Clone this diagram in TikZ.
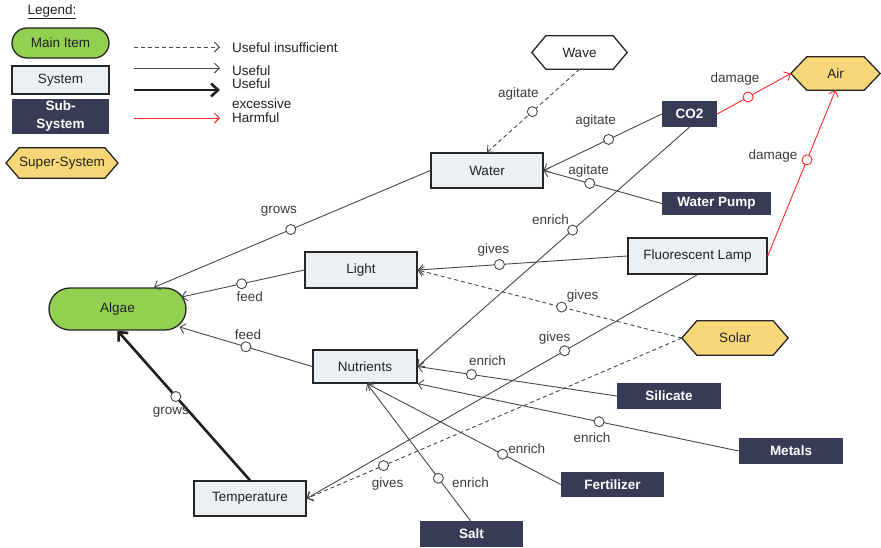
\documentclass[tikz,border=0pt]{standalone}
\usepackage{fontspec}
\setmainfont{Liberation Sans}
\usetikzlibrary{arrows.meta,shapes.misc,backgrounds}

\definecolor{lineg}{HTML}{484848}
\definecolor{edgek}{HTML}{262626}
\definecolor{textk}{HTML}{222222}
\definecolor{lblc}{HTML}{3C3C3C}
\definecolor{algaegreen}{HTML}{92D050}
\definecolor{sysfill}{HTML}{EBF0F5}
\definecolor{subfill}{HTML}{373B55}
\definecolor{superfill}{HTML}{F8D778}
\definecolor{harm}{HTML}{FF2828}

% hexagonal frame around a rectangular core node: #1 node, #2 tip depth, #3 fill
\newcommand\hexframe[3]{%
  \begin{scope}[on background layer]
    \filldraw[draw=edgek, line width=1.3pt, fill=#3, line join=miter]
      ([shift={(-#2,0)}]#1.west) -- (#1.north west) -- (#1.north east)
      -- ([shift={(#2,0)}]#1.east) -- (#1.south east) -- (#1.south west) -- cycle;
  \end{scope}}

\begin{document}
\begin{tikzpicture}[x=1pt, y=-1pt,
  font=\fontsize{13.5}{16}\selectfont,
  mainitem/.style={rounded rectangle, draw=edgek, line width=1.3pt, fill=algaegreen,
    inner sep=0pt, text=textk},
  sysbox/.style={rectangle, draw=edgek, line width=1.3pt, fill=sysfill,
    inner sep=0pt, text=textk},
  subbox/.style={rectangle, fill=subfill, inner sep=0pt, text=white,
    font=\fontsize{13.5}{16}\selectfont\bfseries},
  hexcore/.style={rectangle, inner sep=0pt, text=textk},
  marker/.style={circle, solid, draw=lineg, fill=white, line width=0.9pt,
    minimum size=10pt, inner sep=0pt},
  redmarker/.style={marker, draw=harm},
  lbl/.style={text=lblc, inner sep=0pt},
  legtext/.style={text=textk, inner sep=0pt, anchor=west},
  useful/.style={draw=lineg, line width=0.9pt, -{Straight Barb[length=5pt,width=10pt]}},
  insufficient/.style={useful, dash pattern=on 4pt off 3pt},
  excessive/.style={draw=black!88, line width=2.6pt,
    -{Straight Barb[length=7pt,width=13pt]}},
  harmful/.style={draw=harm, line width=0.9pt, -{Straight Barb[length=5pt,width=10pt]}}
]
\useasboundingbox (0,0) rectangle (881,547);
\begin{scope}[on background layer]
  \fill[white] (0,0) rectangle (881,547);
\end{scope}

% ---------- legend ----------
\node[text=textk, inner sep=0pt] (legtitle) at (52,12) {\underline{Legend:}};
\node[mainitem, minimum width=97pt, minimum height=30pt] (legmain) at (60.5,43) {Main Item};
\node[sysbox, minimum width=97pt, minimum height=28pt] (legsys) at (60.5,80) {System};
\node[subbox, minimum width=97pt, minimum height=35pt, align=center] (legsub) at (60.5,116.5)
  {Sub-\\[2pt]System};
\node[hexcore, minimum width=82pt, minimum height=30pt] (legsuper) at (62,163) {Super-System};
\hexframe{legsuper}{13}{superfill}

\coordinate (la1) at (134,47);  \coordinate (lb1) at (220,47);
\coordinate (la2) at (134,68);  \coordinate (lb2) at (220,68);
\coordinate (la3) at (134,90);  \coordinate (lb3) at (220,90);
\coordinate (la4) at (134,118); \coordinate (lb4) at (220,118);
\draw[insufficient] (la1) -- (lb1);
\draw[useful] (la2) -- (lb2);
\draw[excessive] (la3) -- (lb3);
\draw[harmful] (la4) -- (lb4);
\node[legtext] (lt1) at (232,48) {Useful insufficient};
\node[legtext] (lt2) at (232,71) {Useful};
\node[legtext] (lt3) at (232,84) {Useful};
\node[legtext] (lt4) at (232,104) {excessive};
\node[legtext] (lt5) at (232,118) {Harmful};

% ---------- components ----------
\node[mainitem, minimum width=137pt, minimum height=42pt] (algae) at (117.5,309) {Algae};
\node[sysbox, minimum width=112pt, minimum height=35pt] (water) at (487,170.5) {Water};
\node[sysbox, minimum width=112pt, minimum height=36pt] (light) at (361,270) {Light};
\node[sysbox, minimum width=104pt, minimum height=33pt] (nutrients) at (365,366.5) {Nutrients};
\node[sysbox, minimum width=112pt, minimum height=35pt] (temperature) at (250,498.5) {Temperature};
\node[sysbox, minimum width=139pt, minimum height=36pt] (lamp) at (697.5,256) {Fluorescent Lamp};

\node[subbox, minimum width=55pt, minimum height=26pt] (co2) at (689.5,114) {CO2};
\node[subbox, minimum width=109pt, minimum height=23pt] (pump) at (716.5,203.5) {Water Pump};
\node[subbox, minimum width=104pt, minimum height=26pt] (silicate) at (669,396) {Silicate};
\node[subbox, minimum width=104pt, minimum height=26pt] (metals) at (791,451) {Metals};
\node[subbox, minimum width=103pt, minimum height=25pt] (fert) at (612.5,484.5) {Fertilizer};
\node[subbox, minimum width=103pt, minimum height=26pt] (salt) at (471.5,534) {Salt};

\node[hexcore, minimum width=67pt, minimum height=33pt] (wave) at (579.5,52.5) {Wave};
\hexframe{wave}{14}{white}
\node[hexcore, minimum width=57pt, minimum height=33pt] (air) at (835.5,73.5) {Air};
\hexframe{air}{16}{superfill}
\node[hexcore, minimum width=76pt, minimum height=34pt] (solar) at (735,338) {Solar};
\hexframe{solar}{15}{superfill}

\coordinate (airtip) at ([shift={(-16,0)}]air.west);
\coordinate (solartip) at ([shift={(-15,0)}]solar.west);

% ---------- interactions ----------
\draw[insufficient] (wave.south) -- node[marker, pos=.51] (m1) {} (water.north);
\path (m1) ++(-14,-18) node[lbl] {agitate};

\draw[useful] (co2.west) -- node[marker, pos=.45] (m2) {} (water.east);
\path (m2) ++(-13,-18) node[lbl] {agitate};

\draw[useful] (pump.west) -- node[marker, pos=.61] (m3) {} (water.east);
\path (m3) ++(-1,-12) node[lbl] {agitate};

\draw[useful] (co2.south) -- node[marker, pos=.43] (m4) {} (nutrients.east);
\path (m4) ++(-22,-10) node[lbl] {enrich};

\draw[harmful] (co2.east) -- node[redmarker, pos=.42] (m5) {} (airtip);
\path (m5) ++(-13,-18) node[lbl] {damage};

\draw[harmful] (lamp.east) -- node[redmarker, pos=.58] (m6) {} (air.south);
\path (m6) ++(-34,-4) node[lbl] {damage};

\draw[useful] (water.west) -- node[marker, pos=.505] (m7) {} ([shift={(36.5,0)}]algae.north);
\path (m7) ++(-12,-18) node[lbl] {grows};

\draw[useful] (light.west) -- node[marker, pos=.51] (m8) {} ([shift={(64,-12)}]algae.center);
\path (m8) ++(8,13) node[lbl] {feed};

\draw[useful] (lamp.west) -- node[marker, pos=.61] (m9) {} (light.east);
\path (m9) ++(-6,-15) node[lbl] {gives};

\draw[insufficient] (solartip) -- node[marker, pos=.455] (m10) {} (light.east);
\path (m10) ++(21,-11) node[lbl] {gives};

\draw[useful] (nutrients.west) -- node[marker, pos=.5] (m11) {} ([shift={(62,18)}]algae.center);
\path (m11) ++(2,-12) node[lbl] {feed};

\draw[useful] (silicate.west) -- node[marker, pos=.73] (m12) {} (nutrients.east);
\path (m12) ++(16,-14) node[lbl] {enrich};

\draw[useful] (metals.west) -- node[marker, pos=.435] (m13) {} (nutrients.south east);
\path (m13) ++(-7,16) node[lbl] {enrich};

\draw[useful] (fert.west) -- node[marker, pos=.3] (m14) {} ([shift={(2,0)}]nutrients.south);
\path (m14) ++(24,-6) node[lbl] {enrich};

\draw[useful] ([shift={(-1,0)}]salt.north) -- node[marker, pos=.31] (m15) {} ([shift={(2,0)}]nutrients.south);
\path (m15) ++(32,4) node[lbl] {enrich};

\draw[useful] (lamp.south) -- node[marker, pos=.34] (m16) {} (temperature.east);
\path (m16) ++(-10,-13) node[lbl] {gives};

\draw[insufficient] (solartip) -- node[marker, pos=.795] (m17) {} (temperature.east);
\path (m17) ++(4,18) node[lbl] {gives};

\draw[excessive] (temperature.north) -- node[marker, pos=.56] (m18) {} (algae.south);
\path (m18) ++(-5,16) node[lbl] {grows};

\end{tikzpicture}
\end{document}
